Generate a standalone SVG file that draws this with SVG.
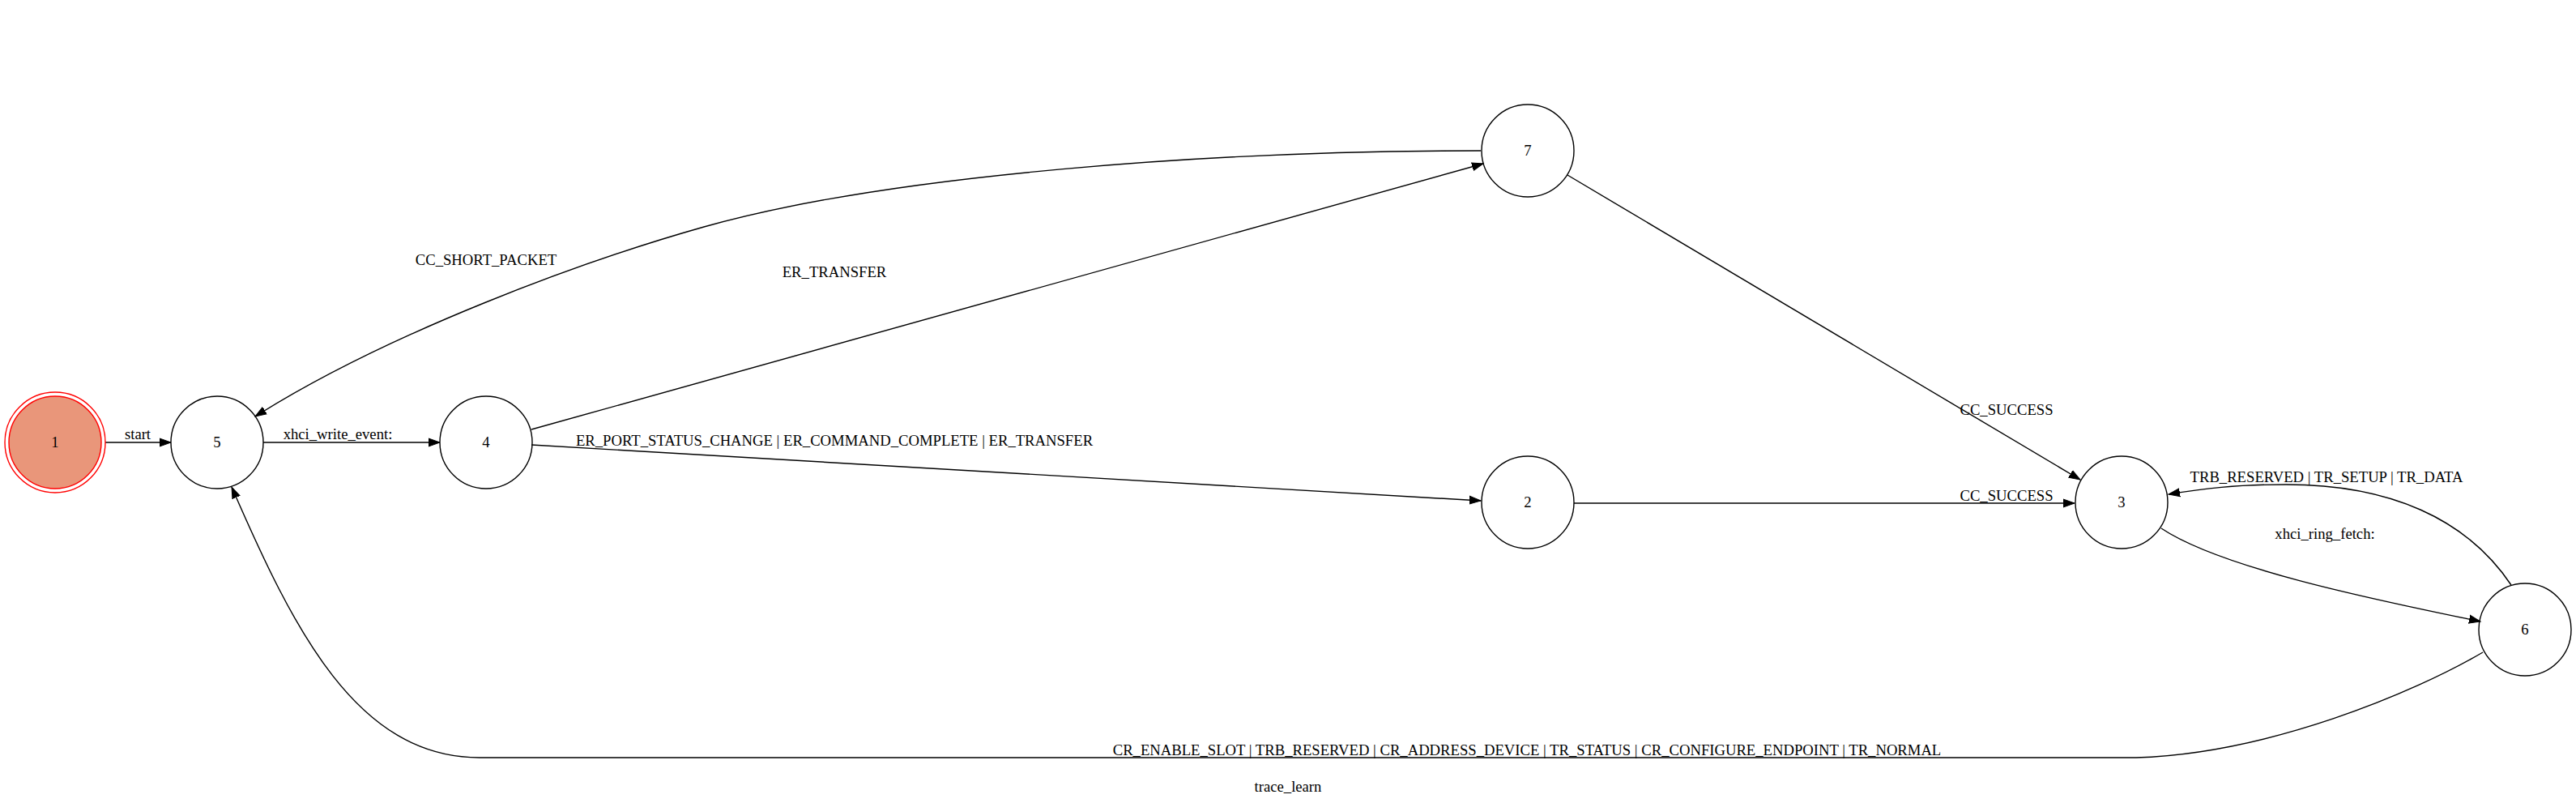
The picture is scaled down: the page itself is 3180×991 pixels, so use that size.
<svg xmlns="http://www.w3.org/2000/svg" width="3180" height="991" viewBox="0 0 3180 991">
<style>
text { font-family: "Liberation Serif", "Times New Roman", serif; font-size: 18.67px; fill: #000; text-anchor: middle; }
.node { fill: none; stroke: #000; stroke-width: 1.4; }
.edge { fill: none; stroke: #000; stroke-width: 1.4; marker-end: url(#arr); }
</style>
<defs>
<marker id="arr" markerUnits="userSpaceOnUse" markerWidth="18" markerHeight="14" refX="14" refY="6" orient="auto">
<path d="M0,1 L14,6 L0,11 z" fill="#000" stroke="#000" stroke-width="1"/>
</marker>
</defs>
<rect width="3180" height="991" fill="#fff"/>
<g id="connectors">
<g id="e1_5"><path class="edge" d="M130,546 L211,546"/><text x="170" y="542">start</text></g>
<g id="e5_4"><path class="edge" d="M325,546 L543,546"/><text x="417" y="542">xhci_write_event:</text></g>
<g id="e4_7"><path class="edge" d="M656,530 L1831,202"/><text x="1030" y="342">ER_TRANSFER</text></g>
<g id="e4_2"><path class="edge" d="M656,549 L1828,618"/><text x="1030" y="550">ER_PORT_STATUS_CHANGE | ER_COMMAND_COMPLETE | ER_TRANSFER</text></g>
<g id="e7_5"><path class="edge" d="M1828,186 C1500,186 1100,215 869,280 C720,322 480,410 315,514"/><text x="600" y="327">CC_SHORT_PACKET</text></g>
<g id="e7_3"><path class="edge" d="M1935,216 L2568,592"/><text x="2477" y="512">CC_SUCCESS</text></g>
<g id="e2_3"><path class="edge" d="M1943,621 L2561,621"/><text x="2477" y="618">CC_SUCCESS</text></g>
<g id="e3_6"><path class="edge" d="M2668,652 C2740,700 2920,738 3062,767"/><text x="2870" y="665">xhci_ring_fetch:</text></g>
<g id="e6_3"><path class="edge" d="M3100,722 C3045,640 2950,598 2822,598 C2760,598 2720,603 2677,610"/><text x="2872" y="595">TRB_RESERVED | TR_SETUP | TR_DATA</text></g>
<g id="e6_5"><path class="edge" d="M3065,805 C2980,855 2800,930 2637,935 L592,935 C440,935 362,776 286,601"/><text x="1885" y="932">CR_ENABLE_SLOT | TRB_RESERVED | CR_ADDRESS_DEVICE | TR_STATUS | CR_CONFIGURE_ENDPOINT | TR_NORMAL</text></g>
</g>
<g id="node1"><circle cx="68" cy="546" r="62" fill="none" stroke="#ff0000" stroke-width="1.4"/><circle cx="68" cy="546" r="57" fill="#e9967a" stroke="#ff0000" stroke-width="1.4"/><text x="68" y="552">1</text></g>
<g id="node5"><circle class="node" cx="268" cy="546" r="57"/><text x="268" y="552">5</text></g>
<g id="node4"><circle class="node" cx="600" cy="546" r="57"/><text x="600" y="552">4</text></g>
<g id="node7"><circle class="node" cx="1886" cy="186" r="57"/><text x="1886" y="192">7</text></g>
<g id="node2"><circle class="node" cx="1886" cy="620" r="57"/><text x="1886" y="626">2</text></g>
<g id="node3"><circle class="node" cx="2619" cy="620" r="57"/><text x="2619" y="626">3</text></g>
<g id="node6"><circle class="node" cx="3117" cy="777" r="57"/><text x="3117" y="783">6</text></g>
<text x="1590" y="977">trace_learn</text>
</svg>
